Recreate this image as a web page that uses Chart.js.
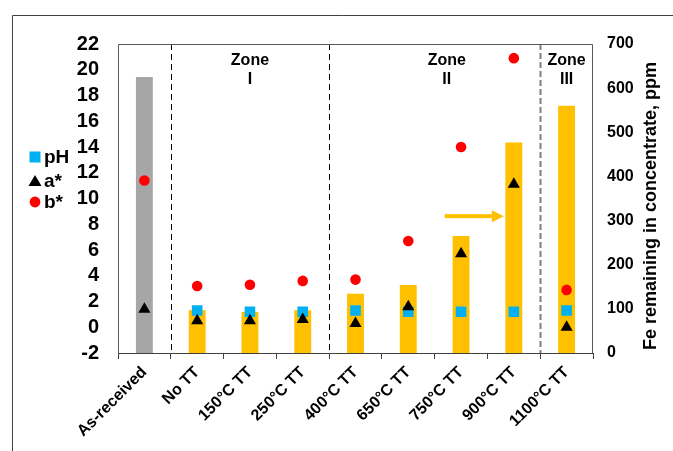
<!DOCTYPE html>
<html>
<head>
<meta charset="utf-8">
<script src="https://cdn.jsdelivr.net/npm/chart.js@4.4.0/dist/chart.umd.min.js"></script>
<style>
  html, body { margin: 0; padding: 0; background: #ffffff; }
  #wrap { width: 673px; height: 451px; position: relative; }
</style>
</head>
<body>
<div id="wrap"><canvas id="chart" width="673" height="451"></canvas></div>
<script>
// Samples along the x axis
const categories = ['As-received', 'No TT', '150°C TT', '250°C TT', '400°C TT',
                    '650°C TT', '750°C TT', '900°C TT', '1100°C TT'];

// Fe remaining in concentrate (ppm), right axis
const feRemaining = [625, 97, 93, 97, 134, 154, 265, 477, 560];

// Leach liquor properties, left axis
const phValues = [null, 1.3, 1.2, 1.2, 1.3, 1.2, 1.2, 1.2, 1.3];
const aStar    = [1.4, 0.5, 0.5, 0.6, 0.3, 1.6, 5.7, 11.1, 0.0];
const bStar    = [11.4, 3.2, 3.3, 3.6, 3.7, 6.7, 14.0, 20.9, 2.9];

// Axis ranges
const leftAxis  = { min: -2, max: 22, step: 2 };
const rightAxis = { min: 0, max: 700, step: 100 };

// Zone grouping: separators sit after these category indices
const zoneBreaks = [0, 3, 7];
const zoneNames  = [['Zone', 'I'], ['Zone', 'II'], ['Zone', 'III']];

const FONT = "'Liberation Sans', Arial, Helvetica, sans-serif";
const YELLOW = '#FFC000';
const GREY = '#A6A6A6';
const AXIS = '#404040';

// Where the zone captions sit (category-index units) and the arrow span
const zoneCaptionAt = [2, 5.73, 8];
const arrowSpan = { from: 5.69, to: 6.81, level: 310 };

const decorations = {
  id: 'decorations',
  beforeDatasetsDraw(chart) {
    const { ctx, chartArea: a, scales } = chart;
    ctx.save();
    // zone separators
    zoneBreaks.forEach((b, i) => {
      const x = Math.round(scales.x.getPixelForValue(b + 0.5)) + 0.5;
      ctx.beginPath();
      if (i === zoneBreaks.length - 1) {
        ctx.strokeStyle = '#7F7F7F'; ctx.lineWidth = 2; ctx.setLineDash([6, 3]);
      } else {
        ctx.strokeStyle = '#000000'; ctx.lineWidth = 1; ctx.setLineDash([6, 4]);
      }
      ctx.moveTo(x, a.top);
      ctx.lineTo(x, a.bottom);
      ctx.stroke();
    });
    ctx.restore();
  },
  afterDraw(chart) {
    const { ctx, chartArea: a, scales } = chart;
    ctx.save();

    // plot frame
    ctx.strokeStyle = '#595959';
    ctx.lineWidth = 1;
    ctx.setLineDash([]);
    ctx.beginPath();
    ctx.moveTo(a.left + 0.5, a.bottom);
    ctx.lineTo(a.left + 0.5, a.top + 0.5);
    ctx.lineTo(a.right - 0.5, a.top + 0.5);
    ctx.lineTo(a.right - 0.5, a.bottom);
    ctx.stroke();
    // x axis line
    ctx.strokeStyle = AXIS;
    ctx.beginPath();
    ctx.moveTo(a.left, a.bottom + 0.5);
    ctx.lineTo(a.right, a.bottom + 0.5);
    ctx.stroke();

    // outer frame
    ctx.strokeStyle = '#404040';
    ctx.beginPath();
    ctx.moveTo(12.5, chart.height);
    ctx.lineTo(12.5, 15.5);
    ctx.lineTo(chart.width, 15.5);
    ctx.stroke();

    // zone captions
    ctx.fillStyle = '#000000';
    ctx.textAlign = 'center';
    ctx.textBaseline = 'middle';
    ctx.font = 'bold 16px ' + FONT;
    zoneNames.forEach((lines, i) => {
      const x = scales.x.getPixelForValue(zoneCaptionAt[i]);
      ctx.fillText(lines[0], x, a.top + 17);
      ctx.fillText(lines[1], x, a.top + 36);
    });

    // arrow
    const x0 = scales.x.getPixelForValue(arrowSpan.from);
    const x1 = scales.x.getPixelForValue(arrowSpan.to);
    const ya = scales.y1.getPixelForValue(arrowSpan.level);
    ctx.fillStyle = YELLOW;
    ctx.fillRect(x0, ya - 2, (x1 - 12) - x0, 4);
    ctx.beginPath();
    ctx.moveTo(x1 - 12, ya - 6);
    ctx.lineTo(x1, ya);
    ctx.lineTo(x1 - 12, ya + 6);
    ctx.closePath();
    ctx.fill();

    // legend for the marker series
    const rows = [
      { ds: 1, y: 157 },
      { ds: 2, y: 181 },
      { ds: 3, y: 202 }
    ];
    ctx.textAlign = 'left';
    ctx.font = 'bold 19px ' + FONT;
    rows.forEach(r => {
      const d = chart.data.datasets[r.ds];
      const cx = 35;
      ctx.fillStyle = d.backgroundColor;
      ctx.beginPath();
      if (d.pointStyle === 'rect') {
        ctx.rect(cx - 5.5, r.y - 5.5, 11, 11);
      } else if (d.pointStyle === 'triangle') {
        ctx.moveTo(cx, r.y - 6);
        ctx.lineTo(cx + 6.5, r.y + 5);
        ctx.lineTo(cx - 6.5, r.y + 5);
        ctx.closePath();
      } else {
        ctx.arc(cx, r.y, 5.4, 0, Math.PI * 2);
      }
      ctx.fill();
      ctx.fillStyle = '#000000';
      ctx.fillText(d.label, 44, r.y + 1);
    });

    // right axis title, reading upward
    ctx.save();
    ctx.translate(651, 206);
    ctx.rotate(-Math.PI / 2);
    ctx.textAlign = 'center';
    ctx.textBaseline = 'middle';
    ctx.font = 'bold 18px ' + FONT;
    ctx.fillStyle = '#000000';
    ctx.fillText('Fe remaining in concentrate, ppm', 0, 0);
    ctx.restore();

    ctx.restore();
  }
};

new Chart(document.getElementById('chart'), {
  data: {
    labels: categories,
    datasets: [
      {
        type: 'bar',
        label: 'Fe',
        data: feRemaining,
        yAxisID: 'y1',
        backgroundColor: feRemaining.map((v, i) => i === 0 ? GREY : YELLOW),
        borderWidth: 0,
        categoryPercentage: 1,
        barPercentage: 0.32,
        order: 4
      },
      {
        type: 'line',
        label: 'pH',
        data: phValues,
        yAxisID: 'y',
        showLine: false,
        pointStyle: 'rect',
        pointRadius: 7.5,
        backgroundColor: '#00B0F0',
        borderColor: '#00B0F0',
        pointBorderWidth: 0,
        order: 3
      },
      {
        type: 'line',
        label: 'a*',
        data: aStar,
        yAxisID: 'y',
        showLine: false,
        pointStyle: 'triangle',
        pointRadius: 7,
        backgroundColor: '#000000',
        borderColor: '#000000',
        pointBorderWidth: 0,
        order: 1
      },
      {
        type: 'line',
        label: 'b*',
        data: bStar,
        yAxisID: 'y',
        showLine: false,
        pointStyle: 'circle',
        pointRadius: 5.3,
        backgroundColor: '#FF0000',
        borderColor: '#FF0000',
        pointBorderWidth: 0,
        order: 2
      }
    ]
  },
  options: {
    responsive: false,
    animation: false,
    devicePixelRatio: 1,
    layout: { padding: { top: 44, left: 0, right: 0, bottom: 0 } },
    plugins: {
      legend: { display: false },
      tooltip: { enabled: false }
    },
    scales: {
      x: {
        type: 'category',
        offset: true,
        grid: { offset: true, drawOnChartArea: false, drawTicks: true, tickLength: 6, tickColor: AXIS },
        border: { display: false },
        ticks: {
          autoSkip: false, minRotation: 45, maxRotation: 45, padding: 4,
          color: '#000000', font: { family: FONT, size: 16, weight: 'bold' }
        },
        afterFit(s) { s.height = 98; }
      },
      y: {
        position: 'left',
        min: leftAxis.min, max: leftAxis.max,
        grid: { display: false, drawTicks: false },
        border: { display: false },
        ticks: {
          stepSize: leftAxis.step, autoSkip: false, padding: 19, color: '#000000',
          font: { family: FONT, size: 20, weight: 'bold' }
        },
        afterFit(s) { s.width = 118; }
      },
      y1: {
        position: 'right',
        min: rightAxis.min, max: rightAxis.max,
        grid: { display: false, drawTicks: false },
        border: { display: false },
        ticks: {
          stepSize: rightAxis.step, autoSkip: false, padding: 14, color: '#000000',
          font: { family: FONT, size: 16, weight: 'bold' }
        },
        afterFit(s) { s.width = 80; }
      }
    }
  },
  plugins: [decorations]
});
</script>
</body>
</html>
